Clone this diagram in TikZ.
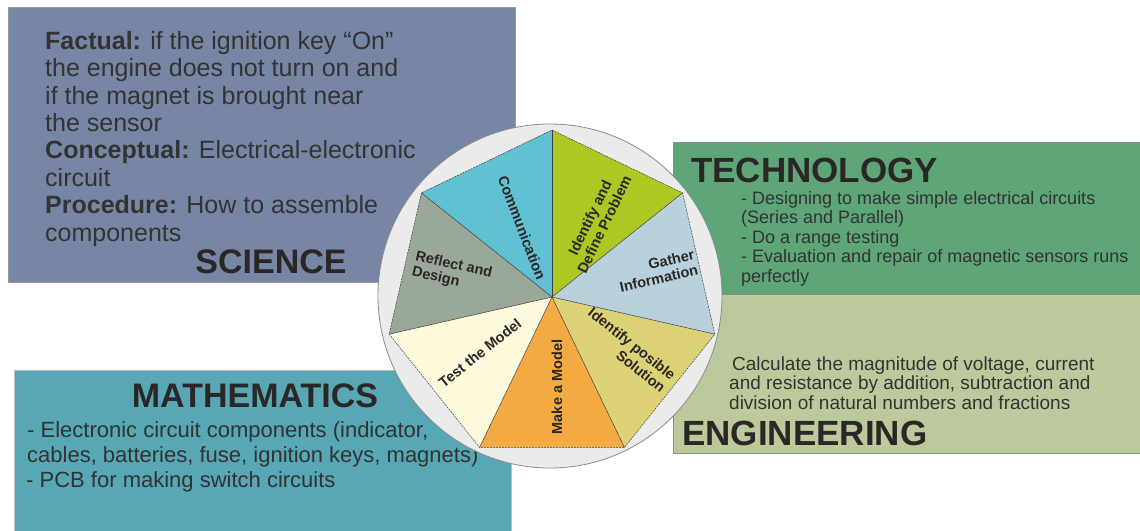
\documentclass[tikz,border=0pt]{standalone}
\usepackage{fontspec}
\setmainfont{Liberation Sans}
\definecolor{sciblue}{HTML}{7686A4}
\definecolor{techgreen}{HTML}{5EA578}
\definecolor{engolive}{HTML}{BCC99C}
\definecolor{mathteal}{HTML}{57A7B4}
\definecolor{ringgray}{HTML}{EBEBEB}
\definecolor{inkdark}{HTML}{2B2727}
\definecolor{bodyink}{HTML}{333333}
\definecolor{wComm}{HTML}{5FC1D1}
\definecolor{wIdent}{HTML}{ABC823}
\definecolor{wGather}{HTML}{B9D1DD}
\definecolor{wSol}{HTML}{DDD276}
\definecolor{wMake}{HTML}{F4AA42}
\definecolor{wTest}{HTML}{FDF9DC}
\definecolor{wReflect}{HTML}{9AA899}
\begin{document}
\begin{tikzpicture}[x=1pt,y=1pt,
  panel/.style={draw=#1, line width=0.8pt},
  body/.style={inner sep=0pt, text=bodyink, align=left},
  heading/.style={inner sep=0pt, text=inkdark, font=\fontsize{34}{36}\selectfont\bfseries},
  wedgelabel/.style={inner sep=0pt, text=inkdark, font=\fontsize{14.5}{16}\selectfont\bfseries},
  spoke/.style={draw=black!75, line width=0.5pt},
  rim/.style={draw=black!75, line width=0.5pt, dash pattern=on 2pt off 1pt}]
\useasboundingbox (0,0) rectangle (1140,-530);
\fill[white] (0,0) rectangle (1140,-530);

% ---- the four STEM panels ----
\filldraw[fill=sciblue, panel=black!40] (8,-7) rectangle (515,-282);
\filldraw[fill=techgreen, panel=black!45] (673,-142) rectangle (1142,-294);
\filldraw[fill=engolive, panel=black!45] (673,-294) rectangle (1142,-453);
\filldraw[fill=mathteal, panel=black!25] (14,-370) rectangle (511,-532);

% science (multi-line nodes are placed by the baseline of their last line)
\node[body, anchor=base west, font=\fontsize{25}{27.4}\selectfont] (scitext) at (45,-241)
  {\textbf{Factual:} if the ignition key “On”\\
   the engine does not turn on and\\
   if the magnet is brought near\\
   the sensor\\
   \textbf{Conceptual:} Electrical-electronic\\
   circuit\\
   \textbf{Procedure:} How to assemble\\
   components};
\node[heading, anchor=base] (scihead) at (271,-273) {SCIENCE};

% technology
\node[heading, anchor=base west, font=\fontsize{35}{36}\selectfont\bfseries] (techhead) at (691,-182) {TECHNOLOGY};
\node[body, anchor=base west, font=\fontsize{18}{19.5}\selectfont] (techtext) at (741,-282)
  {- Designing to make simple electrical circuits\\
   (Series and Parallel)\\
   - Do a range testing\\
   - Evaluation and repair of magnetic sensors runs\\
   perfectly};

% engineering
\node[body, anchor=base west, font=\fontsize{19}{19.5}\selectfont] (engtext) at (729,-409)
  {\hspace*{3pt}Calculate the magnitude of voltage, current\\
   and resistance by addition, subtraction and\\
   division of natural numbers and fractions};
\node[heading, anchor=base west, font=\fontsize{35}{36}\selectfont\bfseries] (enghead) at (682,-445) {ENGINEERING};

% mathematics
\node[heading, anchor=base] (mathhead) at (255,-407) {MATHEMATICS};
\node[body, anchor=base west, font=\fontsize{22}{25}\selectfont] (mathtext) at (26,-487)
  {\hspace*{1pt}- Electronic circuit components (indicator,\\
   \hspace*{1pt}cables, batteries, fuse, ignition keys, magnets)\\
   - PCB for making switch circuits};

% ---- engineering design cycle wheel ----
\filldraw[fill=ringgray, draw=black!45, line width=0.8pt] (550,-296) circle[radius=172];
\coordinate (O) at (552,-297);
\begin{scope}[shift={(552,-297)}]
  \foreach \i in {0,...,6}
    \coordinate (v\i) at ({90-\i*360/7}:167);
\end{scope}

\fill[wIdent]   (O) -- (v0) -- (v1) -- cycle;
\fill[wGather]  (O) -- (v1) -- (v2) -- cycle;
\fill[wSol]     (O) -- (v2) -- (v3) -- cycle;
\fill[wMake]    (O) -- (v3) -- (v4) -- cycle;
\fill[wTest]    (O) -- (v4) -- (v5) -- cycle;
\fill[wReflect] (O) -- (v5) -- (v6) -- cycle;
\fill[wComm]    (O) -- (v6) -- (v0) -- cycle;

\foreach \i in {0,...,6}
  \draw[spoke] (O) -- (v\i);
\draw[rim] (v0) -- (v1) -- (v2) -- (v3) -- (v4) -- (v5) -- (v6) -- cycle;

\node[wedgelabel, rotate=-69] (lcomm) at (522,-228) {Communication};
\node[wedgelabel, rotate=64.3, align=center] (lident) at (597,-221) {Identify and\\Define Problem};
\node[wedgelabel, rotate=12.9, align=right] (lgather) at (657,-271) {Gather\\Information};
\node[wedgelabel, rotate=-38.6, align=right] (lsol) at (627,-350) {Identify posible\\Solution};
\node[wedgelabel, rotate=90] (lmake) at (557,-387) {Make a Model};
\node[wedgelabel, rotate=38.6] (ltest) at (480,-353) {Test the Model};
\node[wedgelabel, rotate=-12.9, align=left] (lreflect) at (452,-273) {Reflect and\\Design};
\end{tikzpicture}
\end{document}
